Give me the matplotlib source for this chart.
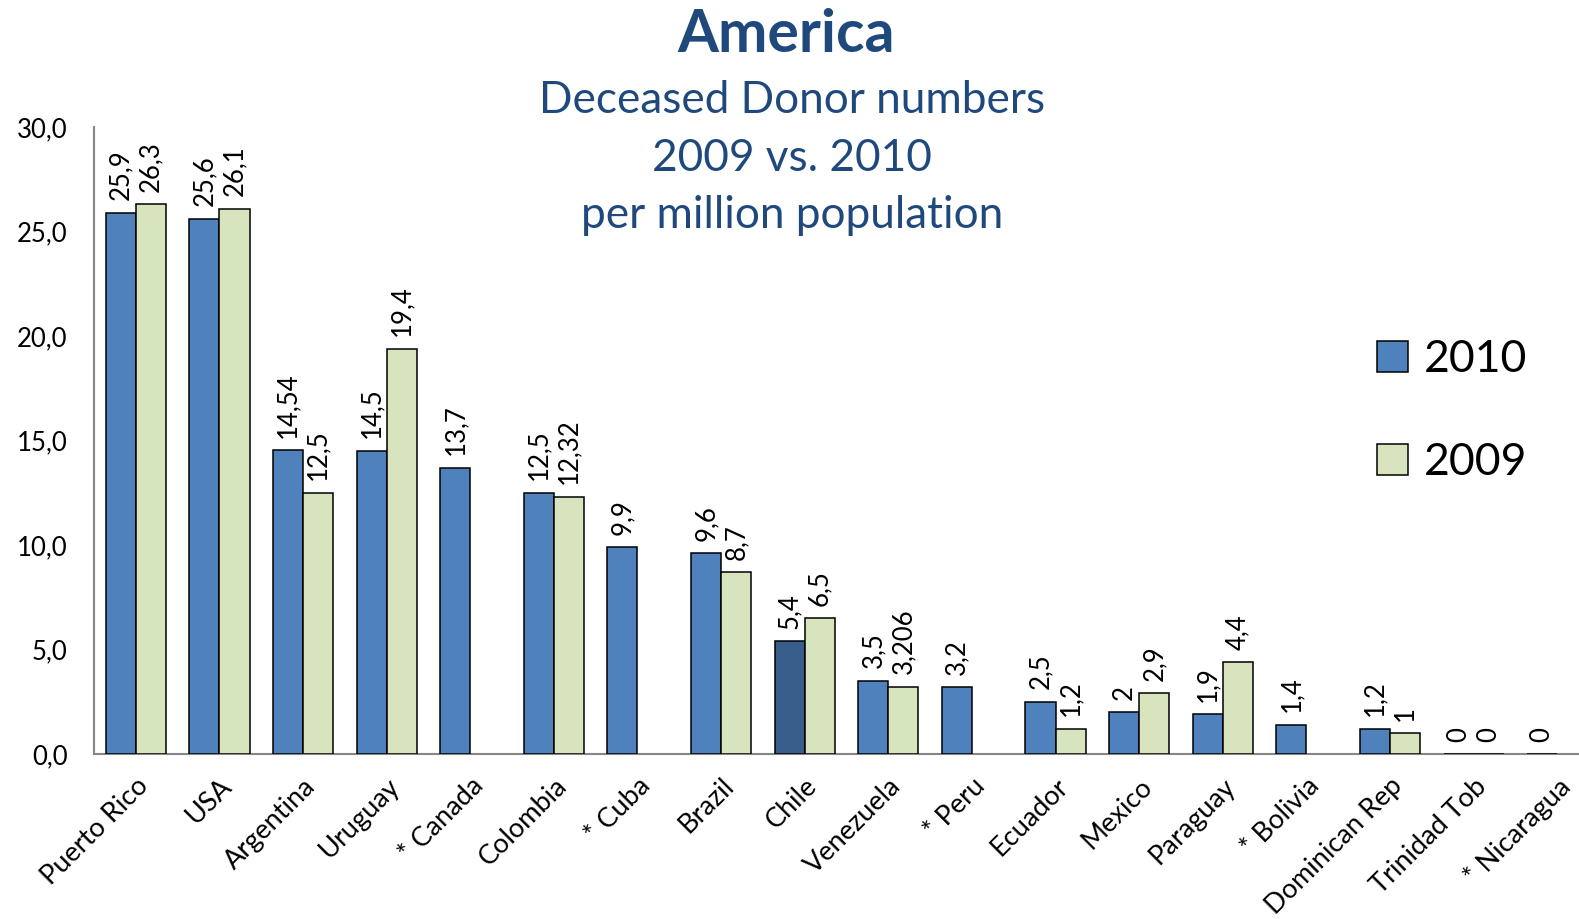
import matplotlib
matplotlib.use("Agg")
import matplotlib.pyplot as plt
from matplotlib.patches import Patch
import numpy as np

plt.rcParams["font.family"] = ["Lato", "DejaVu Sans"]

# ── data ──────────────────────────────────────────────────────────────────────
countries = ["Puerto Rico", "USA", "Argentina", "Uruguay", "* Canada", "Colombia",
             "* Cuba", "Brazil", "Chile", "Venezuela", "* Peru", "Ecuador",
             "Mexico", "Paraguay", "* Bolivia", "Dominican Rep", "Trinidad Tob",
             "* Nicaragua"]
v2010 = [25.9, 25.6, 14.54, 14.5, 13.7, 12.5, 9.9, 9.6, 5.4, 3.5, 3.2, 2.5,
         2, 1.9, 1.4, 1.2, 0, 0]
v2009 = [26.3, 26.1, 12.5, 19.4, None, 12.32, None, 8.7, 6.5, 3.206, None, 1.2,
         2.9, 4.4, None, 1, 0, None]
lbl2010 = ["25,9", "25,6", "14,54", "14,5", "13,7", "12,5", "9,9", "9,6", "5,4",
           "3,5", "3,2", "2,5", "2", "1,9", "1,4", "1,2", "0", "0"]
lbl2009 = ["26,3", "26,1", "12,5", "19,4", None, "12,32", None, "8,7", "6,5",
           "3,206", None, "1,2", "2,9", "4,4", None, "1", "0", None]
yticks = [0, 5, 10, 15, 20, 25, 30]
ytick_labels = ["0,0", "5,0", "10,0", "15,0", "20,0", "25,0", "30,0"]

BLUE = "#4F81BD"
BLUE_DARK = "#385D8A"
GREEN = "#D7E4BD"
TITLE_C = "#1F497D"

W, H = 1579, 919
fig = plt.figure(figsize=(W / 100, H / 100), dpi=100)
ax = fig.add_axes([94 / W, 1 - 754 / H, 1 - 94 / W, (754 - 127) / H])

x = np.arange(len(countries))
bw = 0.36

colors2010 = [BLUE_DARK if c == "Chile" else BLUE for c in countries]
ax.bar(x - bw / 2, v2010, width=bw, color=colors2010, edgecolor="black",
       linewidth=1.1, zorder=3)

x09 = [xi + bw / 2 for xi, v in zip(x, v2009) if v is not None]
h09 = [v for v in v2009 if v is not None]
ax.bar(x09, h09, width=bw, color=GREEN, edgecolor="black", linewidth=1.1, zorder=3)

# data labels (rotated)
for xi, v, s in zip(x, v2010, lbl2010):
    ax.annotate(s, (xi - bw / 2, v), xytext=(0, 9), textcoords="offset points",
                rotation=90, ha="center", va="bottom", fontsize=18.5)
for xi, v, s in zip(x, v2009, lbl2009):
    if v is None:
        continue
    ax.annotate(s, (xi + bw / 2, v), xytext=(0, 9), textcoords="offset points",
                rotation=90, ha="center", va="bottom", fontsize=18.5)

ax.set_xlim(-0.5, 17.26)
ax.set_ylim(0, 30)
ax.set_yticks(yticks)
ax.set_yticklabels(ytick_labels, fontsize=18.5)
ax.set_xticks(x)
ax.set_xticklabels(countries, rotation=45, ha="right", rotation_mode="anchor",
                   fontsize=19.5)
ax.tick_params(axis="y", length=0, pad=19)
ax.tick_params(axis="x", length=0, pad=14)

for side in ("top", "right"):
    ax.spines[side].set_visible(False)
for side in ("left", "bottom"):
    ax.spines[side].set_color("#868686")
    ax.spines[side].set_linewidth(1.5)

# titles
fig.text(786 / W, 1 - 52 / H, "America", ha="center", va="baseline",
         fontsize=42.5, fontweight="bold", color=TITLE_C)
for yb, line in zip([113, 171, 228],
                    ["Deceased Donor numbers", "2009 vs. 2010", "per million population"]):
    fig.text(792 / W, 1 - yb / H, line, ha="center", va="baseline",
             fontsize=31.8, color=TITLE_C)

handles = [Patch(facecolor=BLUE, edgecolor="black", linewidth=1.1, label="2010"),
           Patch(facecolor=GREEN, edgecolor="black", linewidth=1.1, label="2009")]
fig.legend(handles=handles, loc="center left",
           bbox_to_anchor=(1359 / W, 1 - 411 / H), frameon=False, fontsize=32,
           handlelength=0.7, handleheight=0.7, handletextpad=0.35,
           labelspacing=1.4, borderaxespad=0)

fig.savefig("out.png", dpi=100)
